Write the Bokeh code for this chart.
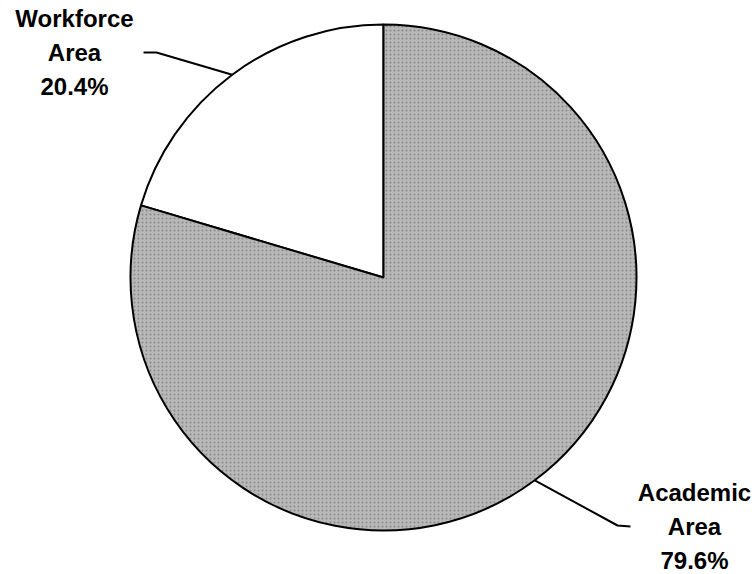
import math
from bokeh.plotting import figure
from bokeh.models import Range1d
from bokeh.core.properties import value
from bokeh.embed import file_html
from bokeh.resources import INLINE

# data
categories = ["Workforce Area", "Academic Area"]
label_lines = [["Workforce", "Area", "20.4%"], ["Academic", "Area", "79.6%"]]
shares = [20.4, 79.6]

W, H = 756, 574
p = figure(width=W, height=H, output_backend="svg", toolbar_location=None,
           x_range=Range1d(0, W), y_range=Range1d(0, H), min_border=0)
p.axis.visible = False
p.grid.visible = False
p.outline_line_color = None

cx, cy, r = 383, 297, 253
fills = ["white", "#b8b8b8"]

total = sum(shares)
start = math.pi / 2
angles = []
for s in shares:
    a = 2 * math.pi * s / total
    angles.append((start, start + a))
    start += a

for i, (a0, a1) in enumerate(angles):
    kw = {}
    if i == 1:
        kw = dict(hatch_pattern="dot", hatch_color="#6a6a6a", hatch_scale=4, hatch_alpha=0.6)
    p.wedge(x=[cx], y=[cy], radius=r, start_angle=a0, end_angle=a1,
            fill_color=fills[i], line_color="black", line_width=2, **kw)

# leader lines and labels
label_pos = [(74, 556), (694, 82)]
for i, (a0, a1) in enumerate(angles):
    mid = (a0 + a1) / 2
    ex, ey = cx + r * math.cos(mid), cy + r * math.sin(mid)
    if i == 0:
        xs = [ex, 156, 143]
        ys = [ey, 522, 522]
    else:
        xs = [ex, 617, 630]
        ys = [ey, 49, 48]
    p.line(xs, ys, line_color="black", line_width=2)
    lx, ly = label_pos[i]
    for j, t in enumerate(label_lines[i]):
        p.text(x=[lx], y=[ly - j * 34], text=[t], text_align="center",
               text_baseline="middle", text_font=value("Liberation Sans"),
               text_font_style="bold", text_font_size="24px", text_color="black")

open("out.html", "w").write(file_html(p, INLINE))
